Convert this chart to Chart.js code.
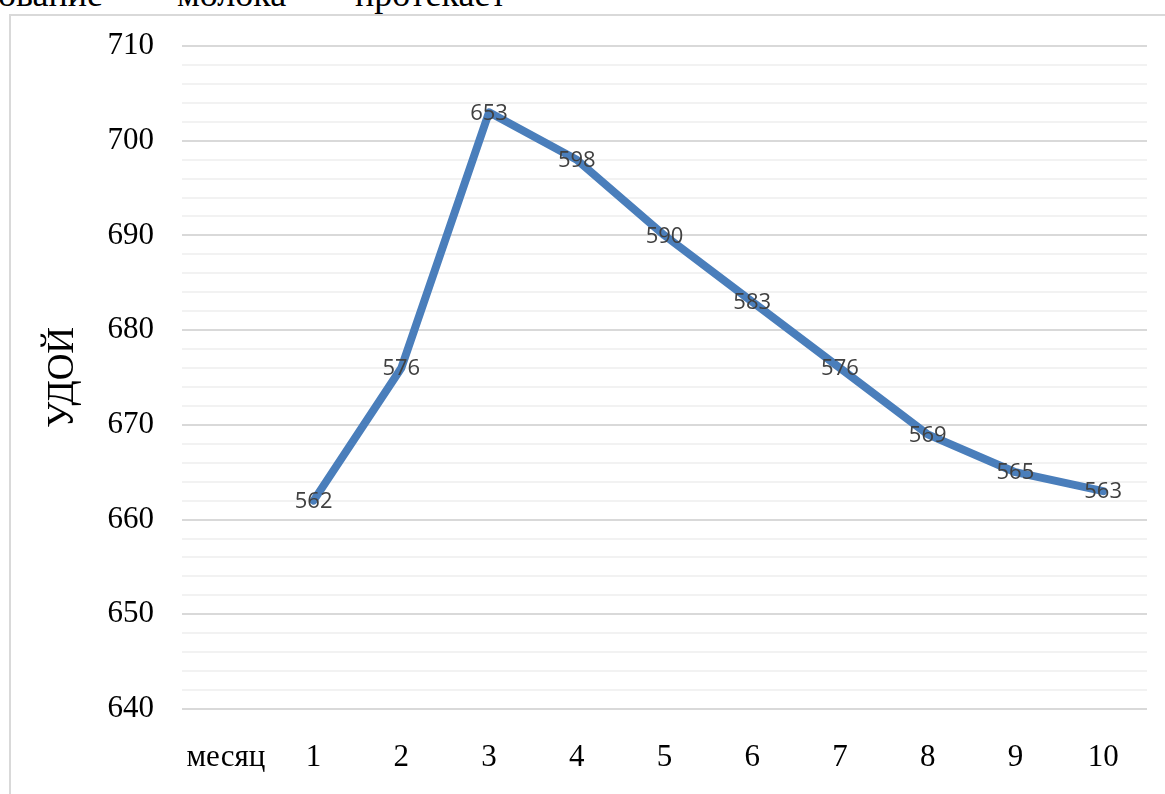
<!DOCTYPE html>
<html>
<head>
<meta charset="utf-8">
<script src="https://cdn.jsdelivr.net/npm/chart.js@4/dist/chart.umd.min.js"></script>
<style>
  html, body { margin: 0; padding: 0; background: #ffffff; overflow: hidden; }
  body { width: 1165px; height: 794px; position: relative; }
  .topText { position: absolute; top: -24px; font-family: "Liberation Serif", "Times New Roman", serif; font-size: 36px; line-height: 36px; color: #000; white-space: nowrap; }
  #frame { position: absolute; left: 9px; top: 14px; width: 1170px; height: 800px; border-left: 2px solid #d9d9d9; border-top: 2px solid #d9d9d9; box-sizing: border-box; }
  #wrap { position: absolute; left: 12px; top: 17px; width: 1153px; height: 777px; }
</style>
</head>
<body>
<span class="topText" style="left:-2px">ование</span>
<span class="topText" style="left:177px">молока</span>
<span class="topText" style="left:355px">протекает</span>
<div id="frame"></div>
<div id="wrap"><canvas id="c"></canvas></div>
<script>
const categories = ['месяц', '1', '2', '3', '4', '5', '6', '7', '8', '9', '10'];
const yieldValues = [null, 662, 676, 703, 698, 690, 683, 676, 669, 665, 663];
const pointLabels = [null, '562', '576', '653', '598', '590', '583', '576', '569', '565', '563'];
const yMin = 640, yMax = 710, yMinorStep = 2, yMajorStep = 10;
const yTitle = 'УДОЙ';

const labelPlugin = {
  id: 'pointLabels',
  afterDatasetsDraw(chart) {
    const ctx = chart.ctx;
    const meta = chart.getDatasetMeta(0);
    ctx.save();
    ctx.font = '22px "Open Sans", "Liberation Sans", sans-serif';
    ctx.fillStyle = '#404040';
    ctx.textAlign = 'center';
    ctx.textBaseline = 'middle';
    meta.data.forEach((el, i) => {
      if (pointLabels[i] == null || yieldValues[i] == null) return;
      ctx.fillText(pointLabels[i], el.x, el.y + 1);
    });
    ctx.restore();
  }
};

new Chart(document.getElementById('c'), {
  type: 'line',
  data: {
    labels: categories,
    datasets: [{
      data: yieldValues,
      borderColor: '#4A7EBB',
      borderWidth: 8,
      borderCapStyle: 'round',
      borderJoinStyle: 'round',
      pointRadius: 0,
      tension: 0,
      fill: false
    }]
  },
  options: {
    responsive: true,
    maintainAspectRatio: false,
    animation: false,
    layout: { padding: { top: 29, right: 18, left: 0, bottom: 0 } },
    plugins: { legend: { display: false }, tooltip: { enabled: false } },
    scales: {
      x: {
        type: 'category',
        offset: true,
        grid: { display: false, drawTicks: false },
        border: { display: false },
        ticks: {
          autoSkip: false, maxRotation: 0, padding: 30, color: '#000',
          font: { family: '"Liberation Serif", "Times New Roman", serif', size: 31 }
        },
        afterFit(scale) { scale.height = 85; scale.paddingLeft = 0; scale.paddingRight = 0; }
      },
      y: {
        min: yMin, max: yMax,
        grid: {
          drawTicks: false,
          lineWidth: 2,
          color: (c) => (c.tick && c.tick.value % yMajorStep === 0) ? '#d9d9d9' : '#f2f2f2'
        },
        border: { display: false },
        ticks: {
          stepSize: yMinorStep, autoSkip: false, padding: 28, color: '#000',
          font: { family: '"Liberation Serif", "Times New Roman", serif', size: 31 },
          callback: (v) => (v % yMajorStep === 0) ? String(v) : ''
        },
        title: {
          display: true, text: yTitle, color: '#000',
          font: { family: '"Liberation Serif", "Times New Roman", serif', size: 37 },
          padding: { top: 29, bottom: 0 }
        },
        afterFit(scale) { scale.width = 170; scale.paddingTop = 0; scale.paddingBottom = 0; }
      }
    }
  },
  plugins: [labelPlugin]
});
</script>
</body>
</html>
